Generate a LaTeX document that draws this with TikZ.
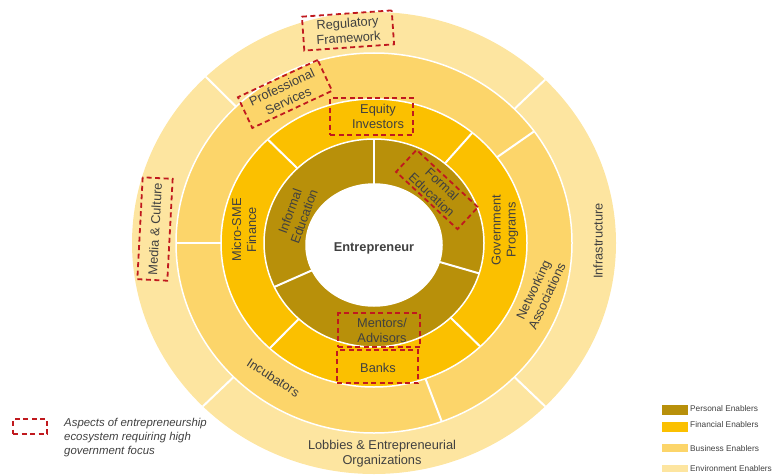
\documentclass[tikz,border=0pt]{standalone}
\usepackage{fontspec}
\setmainfont{Liberation Sans}

\definecolor{persenab}{HTML}{B8900A}
\definecolor{finenab}{HTML}{FBC000}
\definecolor{busenab}{HTML}{FCD56A}
\definecolor{envenab}{HTML}{FDE5A0}
\definecolor{focusred}{HTML}{C0191E}
\definecolor{darktext}{HTML}{404040}

\begin{document}
\begin{tikzpicture}[x=1pt, y=1pt,
    ringlabel/.style={align=center, text=darktext, font=\fontsize{12.8}{15}\selectfont, inner sep=1pt},
    focusbox/.style={draw=focusred, line width=1.8pt, dash pattern=on 5pt off 3.5pt, inner sep=0pt},
    divider/.style={draw=white, line width=2pt},
    ringedge/.style={draw=white, line width=1.5pt},
    swatch/.style={minimum width=26pt, inner sep=0pt},
    legendlabel/.style={font=\fontsize{8.3}{10}\selectfont, text=darktext, inner sep=0pt, anchor=west}]
    % Background
    \useasboundingbox (0,0) rectangle (775,475);
    \coordinate (centre) at (374,232);

    % Environment ring
    \path[fill=envenab] (centre) ellipse [x radius=242, y radius=231];
\foreach \a in {45, 134, 225, 315}
  \draw[divider] (centre) -- ++(\a:242 and 231);

    % Business ring
    \path[fill=busenab, ringedge] (centre) ellipse [x radius=198, y radius=190];
\foreach \a in {36, 180, 290}
  \draw[divider] (centre) -- ++(\a:198 and 190);

    % Financial ring
    \path[fill=finenab, ringedge] (centre) ellipse [x radius=153, y radius=144];
\foreach \a in {50, 134, 227, 314}
  \draw[divider] (centre) -- ++(\a:153 and 144);

    % Personal ring
    \path[fill=persenab, ringedge] (centre) ellipse [x radius=110, y radius=104];
\foreach \a in {90, 205, 343}
  \draw[divider] (centre) -- ++(\a:110 and 104);

    \path[fill=white, ringedge] (374,230) ellipse [x radius=68, y radius=61];

    \node[text=darktext, font=\fontsize{12.8}{15}\selectfont\bfseries] (entre) at (374,227) {Entrepreneur};

    % Personal enablers
    \node[ringlabel, rotate=70] (informal) at (297,261) {Informal\\Education};
    \node[ringlabel, focusbox, rotate=-43, minimum width=84pt, minimum height=30pt] (formal) at (437,285.5) {Formal\\Education};
    \node[focusbox, minimum width=82pt, minimum height=34pt] (mentorsbox) at (379,145) {};
    \node[ringlabel] (mentors) at (382,145) {Mentors/\\Advisors};

    % Financial enablers
    \node[focusbox, minimum width=83pt, minimum height=37pt] (equitybox) at (371.5,358.5) {};
    \node[ringlabel] (equity) at (378,358.5) {Equity\\Investors};
    \node[ringlabel, rotate=90] (microsme) at (244,245) {Micro-SME\\Finance};
    \node[ringlabel, rotate=90] (govprog) at (505,245) {Government\\Programs};
    \node[focusbox, minimum width=81pt, minimum height=33pt] (banksbox) at (377.5,108.5) {};
    \node[ringlabel] (banks) at (378,107) {Banks};

    % Business enablers
    \node[ringlabel, focusbox, rotate=25, minimum width=88pt, minimum height=34pt] (profserv) at (285,381) {Professional\\Services};
    \node[ringlabel, rotate=65] (networking) at (540,182) {Networking\\Associations};
    \node[ringlabel, rotate=-33] (incubators) at (273.5,97.5) {Incubators};

    % Environment enablers
    \node[ringlabel, focusbox, rotate=4, minimum width=90pt, minimum height=34pt] (regulatory) at (348,444.5) {Regulatory\\Framework};
    \node[ringlabel, focusbox, rotate=87, minimum width=102pt, minimum height=30pt] (media) at (155,246) {Media \& Culture};
    \node[ringlabel, rotate=90] (infra) at (598,234) {Infrastructure};
    \node[ringlabel] (lobbies) at (382,21) {Lobbies \& Entrepreneurial\\Organizations};

    % Legend
    \node[focusbox, minimum width=34pt, minimum height=15pt] (keybox) at (30,48.5) {};
    \node[align=left, anchor=west, text=darktext, inner sep=0pt, font=\fontsize{11.4}{14}\selectfont\itshape] (keytext) at (64,37) {Aspects of entrepreneurship\\ecosystem requiring high\\government focus};

    \node[swatch, fill=persenab, minimum height=10pt] (perskey) at (675,65) {};
    \node[legendlabel] (perslabel) at (690,66.7) {Personal Enablers};
    \node[swatch, fill=finenab, minimum height=10pt] (finkey) at (675,48.3) {};
    \node[legendlabel] (finlabel) at (690,50.7) {Financial Enablers};
    \node[swatch, fill=busenab, minimum height=8pt] (buskey) at (675,27) {};
    \node[legendlabel] (buslabel) at (690,26.7) {Business Enablers};
    \node[swatch, fill=envenab, minimum height=7.5pt] (envkey) at (675,6.5) {};
    \node[legendlabel] (envlabel) at (690,6) {Environment Enablers};

  \end{tikzpicture}
\end{document}
